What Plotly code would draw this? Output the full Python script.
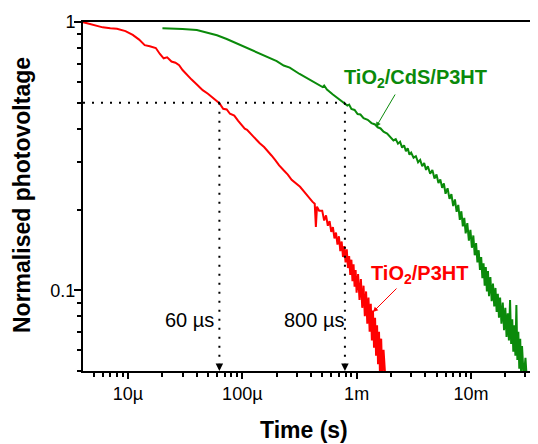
import math
import plotly.graph_objects as go

# ---------------- data ----------------
red_t = [4.0e-6, 5.0e-6, 6.0e-6, 7.0e-6, 8.0e-6, 9.5e-6, 1.1e-5, 1.25e-5, 1.4e-5, 1.55e-5,
         1.75e-5, 1.9e-5, 2.05e-5, 2.2e-5, 2.4e-5, 2.6e-5, 2.8e-5, 3.0e-5, 3.3e-5, 3.6e-5,
         4.0e-5, 4.5e-5, 5.0e-5, 5.6e-5, 6.3e-5, 6.8e-5, 7.3e-5, 7.8e-5, 8.5e-5, 9.2e-5,
         1.0e-4, 1.05e-4, 1.1e-4, 1.2e-4, 1.3e-4, 1.42e-4, 1.55e-4, 1.65e-4, 1.8e-4, 1.95e-4,
         2.1e-4, 2.3e-4, 2.5e-4, 2.7e-4, 2.95e-4, 3.2e-4, 3.5e-4, 3.8e-4, 4.1e-4, 4.3e-4,
         4.4e-4, 4.5e-4, 4.7e-4,
         5.0e-4, 5.2e-4, 5.4e-4, 5.6e-4, 5.8e-4, 6.0e-4, 6.2e-4, 6.4e-4, 6.6e-4, 6.8e-4,
         7.0e-4, 7.2e-4, 7.4e-4, 7.6e-4, 7.8e-4, 8.0e-4, 8.2e-4, 8.4e-4, 8.6e-4, 8.8e-4,
         9.0e-4, 9.2e-4, 9.4e-4, 9.6e-4, 9.8e-4, 1.00e-3, 1.03e-3, 1.06e-3, 1.09e-3, 1.12e-3,
         1.15e-3, 1.18e-3, 1.21e-3, 1.24e-3, 1.27e-3, 1.30e-3, 1.33e-3, 1.36e-3, 1.39e-3, 1.42e-3,
         1.45e-3, 1.48e-3, 1.51e-3, 1.54e-3, 1.57e-3, 1.60e-3, 1.64e-3, 1.68e-3, 1.72e-3, 1.76e-3,
         1.80e-3]
red_v = [1.000, 0.975, 0.955, 0.948, 0.944, 0.925, 0.895, 0.860, 0.820, 0.812,
         0.800, 0.760, 0.732, 0.738, 0.712, 0.705, 0.690, 0.662, 0.632, 0.610,
         0.585, 0.557, 0.540, 0.518, 0.498, 0.475, 0.472, 0.455, 0.448, 0.428,
         0.410, 0.400, 0.396, 0.380, 0.368, 0.353, 0.342, 0.333, 0.318, 0.305,
         0.292, 0.280, 0.270, 0.258, 0.250, 0.243, 0.232, 0.222, 0.214, 0.210,
         0.172, 0.205, 0.198,
         0.198, 0.182, 0.190, 0.174, 0.181, 0.165, 0.172, 0.156, 0.164, 0.148,
         0.159, 0.140, 0.152, 0.133, 0.146, 0.127, 0.142, 0.121, 0.134, 0.114,
         0.130, 0.108, 0.125, 0.103, 0.119, 0.098, 0.115, 0.092, 0.110, 0.086,
         0.104, 0.080, 0.099, 0.075, 0.094, 0.070, 0.089, 0.065, 0.084, 0.061,
         0.079, 0.057, 0.074, 0.053, 0.070, 0.049, 0.066, 0.046, 0.060, 0.045,
         0.044]

green_t = [2.0e-5, 2.5e-5, 3.0e-5, 4.0e-5, 5.0e-5, 6.0e-5, 7.3e-5, 8.5e-5, 1.0e-4, 1.23e-4,
           1.45e-4, 1.7e-4, 2.0e-4, 2.3e-4, 2.6e-4, 3.17e-4, 3.6e-4, 4.1e-4, 4.6e-4, 5.04e-4,
           5.2e-4, 5.5e-4, 6.2e-4, 7.0e-4, 7.85e-4, 8.3e-4, 8.6e-4, 9.0e-4, 9.6e-4, 1.02e-3,
           1.08e-3, 1.15e-3, 1.25e-3, 1.35e-3, 1.45e-3, 1.53e-3, 1.62e-3, 1.72e-3, 1.85e-3, 2.0e-3,
           2.1e-3, 2.2e-3, 2.3e-3, 2.4e-3, 2.5e-3, 2.6e-3, 2.7e-3, 2.8e-3, 2.9e-3, 3.0e-3,
           3.15e-3, 3.3e-3, 3.45e-3, 3.6e-3, 3.75e-3, 3.9e-3, 4.05e-3, 4.2e-3, 4.4e-3, 4.6e-3,
           4.8e-3, 5.0e-3, 5.2e-3, 5.4e-3, 5.6e-3, 5.8e-3, 6.0e-3, 6.25e-3, 6.5e-3, 6.75e-3,
           7.0e-3, 7.25e-3, 7.5e-3, 7.75e-3, 8.0e-3, 8.25e-3, 8.5e-3, 8.75e-3, 9.0e-3, 9.3e-3,
           9.6e-3, 9.9e-3, 1.02e-2, 1.05e-2, 1.08e-2, 1.11e-2, 1.14e-2, 1.17e-2, 1.2e-2, 1.23e-2,
           1.26e-2, 1.29e-2, 1.32e-2, 1.35e-2, 1.38e-2, 1.41e-2, 1.44e-2, 1.48e-2, 1.52e-2, 1.56e-2,
           1.60e-2, 1.64e-2, 1.68e-2, 1.72e-2, 1.76e-2, 1.80e-2, 1.85e-2, 1.90e-2, 1.95e-2, 2.0e-2,
           2.05e-2, 2.1e-2, 2.15e-2, 2.2e-2, 2.25e-2, 2.3e-2, 2.35e-2, 2.4e-2, 2.45e-2, 2.5e-2,
           2.55e-2, 2.6e-2, 2.65e-2, 2.7e-2, 2.75e-2, 2.8e-2, 2.9e-2, 3.0e-2, 3.1e-2]
green_v = [0.947, 0.945, 0.942, 0.934, 0.914, 0.892, 0.864, 0.840, 0.815, 0.786,
           0.760, 0.738, 0.715, 0.688, 0.676, 0.640, 0.620, 0.600, 0.586, 0.572,
           0.580, 0.560, 0.537, 0.515, 0.497, 0.488, 0.492, 0.474, 0.470, 0.454,
           0.452, 0.438, 0.432, 0.420, 0.415, 0.405, 0.401, 0.390, 0.384, 0.370,
           0.362, 0.366, 0.352, 0.358, 0.340, 0.347, 0.330, 0.338, 0.320, 0.326,
           0.312, 0.316, 0.300, 0.306, 0.290, 0.298, 0.281, 0.290, 0.272, 0.281,
           0.261, 0.270, 0.251, 0.259, 0.241, 0.250, 0.229, 0.240, 0.219, 0.228,
           0.206, 0.218, 0.196, 0.208, 0.183, 0.197, 0.173, 0.186, 0.163, 0.178,
           0.153, 0.168, 0.144, 0.160, 0.135, 0.150, 0.127, 0.141, 0.119, 0.133,
           0.111, 0.126, 0.104, 0.122, 0.099, 0.118, 0.095, 0.112, 0.091, 0.106,
           0.087, 0.102, 0.083, 0.097, 0.079, 0.094, 0.075, 0.090, 0.071, 0.086,
           0.067, 0.082, 0.065, 0.092, 0.063, 0.078, 0.059, 0.074, 0.057, 0.088,
           0.055, 0.070, 0.051, 0.066, 0.049, 0.062, 0.047, 0.056, 0.045]

half_level = 0.5
t_half_red = 6.3e-5
t_half_green = 7.9e-4
half_labels = ["60 µs", "800 µs"]
series_names = ["TiO<sub>2</sub>/P3HT", "TiO<sub>2</sub>/CdS/P3HT"]
x_tickvals = [1e-5, 1e-4, 1e-3, 1e-2]
x_ticktext = ["10µ", "100µ", "1m", "10m"]
y_tickvals = [0.1, 1]
y_ticktext = ["0.1", "1"]
x_range_log = [-5.394, -1.413]
y_range_log = [math.log10(0.05), 0]

RED = "#ff0000"
GREEN = "#0a8a0a"
FONT = "Arial, Liberation Sans, sans-serif"

# page has an 8px body margin; plot area in page pixels
PAGE_OFF = 8
L, R, T, B = 83, 538, 22, 371
W, H = 538 - PAGE_OFF, 444 - PAGE_OFF


def px(xp):
    return (xp - L) / (R - L)


def py(yp):
    return (B - yp) / (B - T)


fig = go.Figure()
fig.add_trace(go.Scatter(x=red_t, y=red_v, mode="lines",
                         line=dict(color=RED, width=2), showlegend=False))
fig.add_trace(go.Scatter(x=green_t, y=green_v, mode="lines",
                         line=dict(color=GREEN, width=2), showlegend=False))

dot = dict(color="black", width=2, dash="2px,7px")
fig.add_trace(go.Scatter(x=[10 ** x_range_log[0], t_half_green], y=[half_level, half_level],
                         mode="lines", line=dot, showlegend=False, hoverinfo="skip"))
for t in (t_half_red, t_half_green):
    fig.add_trace(go.Scatter(x=[t, t], y=[half_level, 0.05], mode="lines",
                             line=dot, showlegend=False, hoverinfo="skip"))
    fig.add_annotation(x=math.log10(t), y=y_range_log[0],
                       ax=0, ay=-8, showarrow=True, arrowhead=2, arrowsize=1,
                       arrowwidth=1.5, arrowcolor="black", text="")

# half time labels
fig.add_annotation(xref="paper", yref="paper", x=px(216), y=py(320), xanchor="right",
                   yanchor="middle", text=half_labels[0], showarrow=False,
                   font=dict(family=FONT, size=20, color="black"))
fig.add_annotation(xref="paper", yref="paper", x=px(346), y=py(320), xanchor="right",
                   yanchor="middle", text=half_labels[1], showarrow=False,
                   font=dict(family=FONT, size=20, color="black"))

# series labels
fig.add_annotation(xref="paper", yref="paper", x=px(342), y=py(78), xanchor="left",
                   yanchor="middle", text="<b>" + series_names[1] + "</b>", showarrow=False,
                   font=dict(family=FONT, size=20, color=GREEN))
fig.add_annotation(xref="paper", yref="paper", x=px(369), y=py(274), xanchor="left",
                   yanchor="middle", text="<b>" + series_names[0] + "</b>", showarrow=False,
                   font=dict(family=FONT, size=20, color=RED))
# label arrows
fig.add_annotation(xref="paper", yref="paper", x=px(376), y=py(127), ax=20, ay=-34,
                   showarrow=True, arrowhead=2, arrowsize=1, arrowwidth=1,
                   arrowcolor=GREEN, text="")
fig.add_annotation(xref="paper", yref="paper", x=px(373), y=py(312), ax=25, ay=-25,
                   showarrow=True, arrowhead=2, arrowsize=1, arrowwidth=1,
                   arrowcolor=RED, text="")

# axis titles
fig.add_annotation(xref="paper", yref="paper", x=px(304), y=py(430), xanchor="center",
                   yanchor="middle", text="<b>Time (s)</b>", showarrow=False,
                   font=dict(family=FONT, size=23, color="black"))
fig.add_annotation(xref="paper", yref="paper", x=px(22), y=py(195), xanchor="center",
                   yanchor="middle", text="<b>Normalised photovoltage</b>", showarrow=False,
                   textangle=-90, font=dict(family=FONT, size=23, color="black"))

fig.update_xaxes(type="log", range=x_range_log, showgrid=False, zeroline=False,
                 showline=True, linecolor="black", linewidth=2, mirror=True,
                 tickmode="array", tickvals=x_tickvals, ticktext=x_ticktext,
                 ticks="outside", ticklen=6, tickwidth=1.5, tickcolor="black",
                 ticklabelstandoff=-1,
                 tickfont=dict(family=FONT, size=18, color="black"),
                 minor=dict(ticks="outside", ticklen=4, tickwidth=1.5, tickcolor="black",
                            dtick="D1", showgrid=False))
fig.update_yaxes(type="log", range=y_range_log, showgrid=False, zeroline=False,
                 showline=True, linecolor="black", linewidth=2, mirror=False,
                 tickmode="array", tickvals=y_tickvals, ticktext=y_ticktext,
                 ticks="outside", ticklen=7, tickwidth=1.5, tickcolor="black",
                 ticklabelstandoff=-5,
                 tickfont=dict(family=FONT, size=18, color="black"),
                 minor=dict(ticks="outside", ticklen=4, tickwidth=1.5, tickcolor="black",
                            dtick="D1", showgrid=False))

fig.update_layout(width=W, height=H,
                  margin=dict(l=L - PAGE_OFF, r=538 - R, t=T - PAGE_OFF, b=444 - B),
                  paper_bgcolor="white", plot_bgcolor="white", showlegend=False)

fig.write_html("out.html")
